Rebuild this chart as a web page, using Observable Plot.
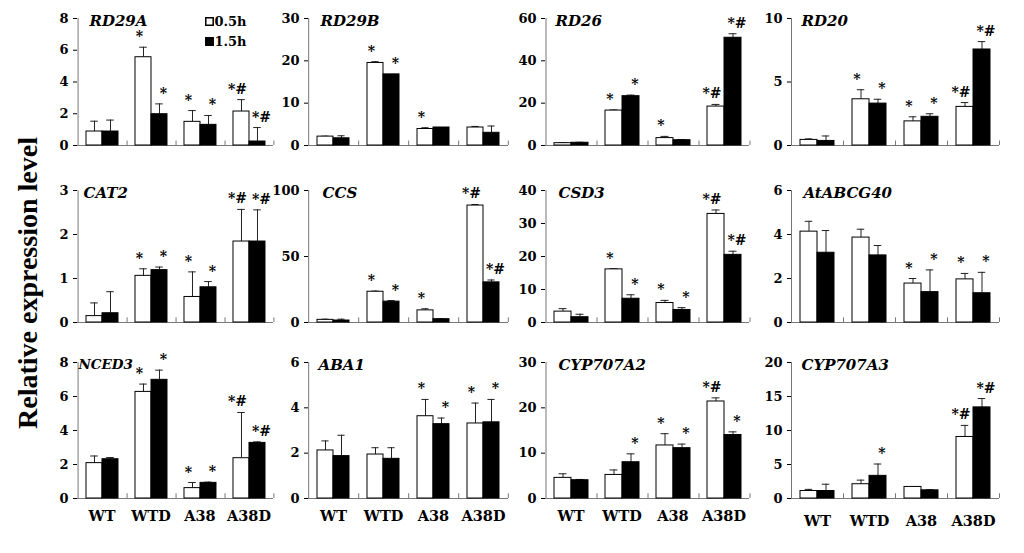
<!DOCTYPE html>
<html><head><meta charset="utf-8">
<script src="https://cdn.jsdelivr.net/npm/d3@7"></script>
<script src="https://cdn.jsdelivr.net/npm/@observablehq/plot@0.6"></script>
<style>
body{margin:0;background:#fff;}
#wrap{position:relative;width:1024px;height:553px;overflow:hidden;background:#fff;}
.panel{position:absolute;}
.panel svg{overflow:visible;background:none;}
#ylab{position:absolute;left:28px;top:283px;transform:translate(-50%,-50%) rotate(-90deg);font:bold 28px "Liberation Serif";white-space:nowrap;color:#000;}
</style></head><body><div id="wrap"><div id="ylab">Relative expression level</div></div>
<script>
// ---- data ----
const groups = ["WT", "WTD", "A38", "A38D"];
const times = ["0.5h", "1.5h"];
const genes = ["RD29A", "RD29B", "RD26", "RD20", "CAT2", "CCS", "CSD3", "AtABCG40", "NCED3", "ABA1", "CYP707A2", "CYP707A3"];
const yTicks = [
  [0, 2, 4, 6, 8], [0, 10, 20, 30], [0, 20, 40, 60], [0, 5, 10],
  [0, 1, 2, 3], [0, 50, 100], [0, 10, 20, 30, 40], [0, 2, 4, 6],
  [0, 2, 4, 6, 8], [0, 2, 4, 6], [0, 10, 20, 30], [0, 5, 10, 15, 20]
];
// mean values at 0.5h, per gene, per group (WT, WTD, A38, A38D)
const mean05 = [
  [0.88, 5.56, 1.49, 2.14], [2.1, 19.5, 3.9, 4.25], [1.1, 16.5, 3.5, 18.4], [0.44, 3.64, 1.9, 3.04],
  [0.145, 1.06, 0.58, 1.84], [2.0, 23.3, 9.2, 88.6], [3.3, 16.1, 5.9, 32.9], [4.13, 3.86, 1.77, 1.96],
  [2.08, 6.27, 0.61, 2.37], [2.12, 1.94, 3.63, 3.31], [4.55, 5.2, 11.7, 21.4], [1.1, 2.1, 1.7, 9.05]
];
const err05 = [
  [0.65, 0.63, 0.71, 0.75], [0.1, 0.3, 0.3, 0.25], [0.2, 0.3, 0.8, 1.0], [0.08, 0.75, 0.36, 0.34],
  [0.3, 0.16, 0.57, 0.73], [0.5, 0.5, 1.2, 0.8], [0.9, 0.2, 0.8, 1.2], [0.47, 0.38, 0.23, 0.27],
  [0.42, 0.46, 0.33, 2.69], [0.42, 0.3, 0.74, 0.9], [0.9, 1.1, 2.6, 0.8], [0.24, 0.6, 0, 1.7]
];
const mean15 = [
  [0.88, 1.97, 1.30, 0.25], [1.7, 16.8, 4.25, 3.0], [1.3, 23.3, 2.5, 50.9], [0.36, 3.3, 2.26, 7.56],
  [0.21, 1.19, 0.8, 1.84], [1.5, 15.8, 2.5, 30.4], [1.6, 7.2, 3.8, 20.5], [3.17, 3.05, 1.38, 1.33],
  [2.31, 6.98, 0.92, 3.27], [1.87, 1.75, 3.28, 3.36], [4.03, 8.0, 11.1, 14.0], [1.1, 3.33, 1.2, 13.4]
];
const err15 = [
  [0.72, 0.65, 0.59, 0.88], [0.6, 0, 0, 1.6], [0.2, 0.5, 0.3, 1.9], [0.39, 0.34, 0.24, 0.62],
  [0.49, 0.07, 0.13, 0.72], [1.0, 0.8, 0.3, 1.8], [0.9, 1.2, 0.7, 1.1], [1.01, 0.45, 1.01, 0.95],
  [0.1, 0.57, 0.04, 0.06], [0.92, 0.49, 0.27, 1.01], [0.17, 1.85, 0.9, 0.7], [1.0, 1.74, 0.1, 1.3]
];
const sig05 = [
  ["", "*", "*", "*#"], ["", "*", "*", ""], ["", "*", "*", "*#"], ["", "*", "*", "*#"],
  ["", "*", "*", "*#"], ["", "*", "*", "*#"], ["", "*", "*", "*#"], ["", "", "*", "*"],
  ["", "*", "*", "*#"], ["", "", "*", "*"], ["", "", "*", "*#"], ["", "", "", "*#"]
];
const sig15 = [
  ["", "*", "*", "*#"], ["", "*", "", ""], ["", "*", "", "*#"], ["", "*", "*", "*#"],
  ["", "*", "*", "*#"], ["", "*", "", "*#"], ["", "*", "*", "*#"], ["", "", "*", "*"],
  ["", "*", "*", "*#"], ["", "", "*", "*"], ["", "*", "*", "*"], ["", "*", "", "*#"]
];

// ---- layout ----
const colLeft = [76, 307, 545, 790];
const colStep = [49.3, 50.5, 51, 52.5];
const rowTop = [18, 190, 362];
const rowZero = [145, 322, 498];
const titleDx = [12, 12, 10, 10, 6, 14, 13, 12, 1, 10, 13, 10];
const titleSize = [15, 15, 15, 15, 15, 15, 15, 15, 13.5, 15, 15, 15];
const labelPad = [12, 12, 12, 17];
const sigDx = [-4, 4];
const M = {left: 40, right: 6, top: 24, bottom: 8, bottomLast: 36};
const axisColor = "#777";

const wrap = document.getElementById("wrap");

genes.forEach((gene, k) => {
  const r = Math.floor(k / 4), c = k % 4;
  const s = colStep[c], b = s / 3;
  const rows = [];
  groups.forEach((g, i) => {
    rows.push({group: g, time: times[0], value: mean05[k][i], err: err05[k][i], sig: sig05[k][i]});
    rows.push({group: g, time: times[1], value: mean15[k][i], err: err15[k][i], sig: sig15[k][i]});
  });
  const withErr = rows.filter(d => d.err > 0);
  const yMax = yTicks[k][yTicks[k].length - 1];
  const mb = r === 2 ? M.bottomLast : M.bottom;
  const h = rowZero[r] - rowTop[r];
  const top = d => d.value + d.err;
  const capInset = (b - 8) / 2;

  const marks = [
    Plot.ruleY([0], {stroke: axisColor}),
    Plot.ruleX([groups[0]], {fx: d => d, x: () => times[0], dx: -b, y1: 0, y2: yMax, stroke: axisColor}),
    Plot.ruleX(groups.slice(1), {fx: d => d, x: () => times[0], dx: -b, y1: 0, y2: yMax * 0.035, stroke: axisColor}),
    Plot.ruleX([groups[3]], {fx: d => d, x: () => times[1], dx: b, y1: 0, y2: yMax * 0.035, stroke: axisColor}),
    Plot.ruleX(withErr, {fx: "group", x: "time", y1: "value", y2: top, stroke: "#222"}),
    Plot.tickY(withErr, {fx: "group", x: "time", y: top, insetLeft: capInset, insetRight: capInset, stroke: "#222"}),
    Plot.barY(rows, {fx: "group", x: "time", y: "value", fill: "time", stroke: "#000", strokeWidth: 1}),
    Plot.text([gene], {fx: () => groups[0], text: d => d, frameAnchor: "top-left", textAnchor: "start", lineAnchor: "top", dx: titleDx[k], dy: -3, fontStyle: "italic", fontSize: titleSize[k], fill: "#000"})
  ];
  times.forEach((t, j) => {
    marks.push(Plot.text(rows.filter(d => d.sig && d.time === t), {fx: "group", x: "time", y: top, text: "sig", lineAnchor: "bottom", dx: sigDx[j], dy: -6, fontSize: 14, fill: "#000"}));
  });
  if (k === 0) {
    times.forEach((t, j) => {
      marks.push(Plot.dot([t], {fx: () => groups[2], frameAnchor: "top-left", dx: 34, dy: 3 + 20 * j, symbol: "square", r: 4.2, fill: d => d, stroke: "#000"}));
      marks.push(Plot.text([t], {fx: () => groups[2], text: d => d, frameAnchor: "top-left", textAnchor: "start", lineAnchor: "middle", dx: 39, dy: 3 + 20 * j, fontSize: 13, fill: "#000"}));
    });
  }
  if (r === 2) {
    marks.push(Plot.axisFx({anchor: "bottom", tickSize: 0, tickPadding: labelPad[c], label: null, fontSize: 14.5}));
  }

  const chart = Plot.plot({
    width: M.left + 4 * s + M.right,
    height: M.top + h + mb,
    marginLeft: M.left, marginRight: M.right, marginTop: M.top, marginBottom: mb,
    style: {background: "none", fontFamily: "DejaVu Serif", fontWeight: "bold", fontSize: "13px", color: "#000", overflow: "visible"},
    fx: {domain: groups, padding: 0, axis: null, label: null},
    x: {domain: times, paddingInner: 0, paddingOuter: 0.5, axis: null},
    y: {domain: [0, yMax], ticks: yTicks[k], tickFormat: d => String(d), tickSize: 4, tickPadding: 5, label: null},
    color: {domain: times, range: ["#fff", "#000"]},
    marks
  });
  const div = document.createElement("div");
  div.className = "panel";
  div.style.left = (colLeft[c] - M.left) + "px";
  div.style.top = (rowTop[r] - M.top) + "px";
  div.appendChild(chart);
  wrap.appendChild(div);
});
</script></body></html>
